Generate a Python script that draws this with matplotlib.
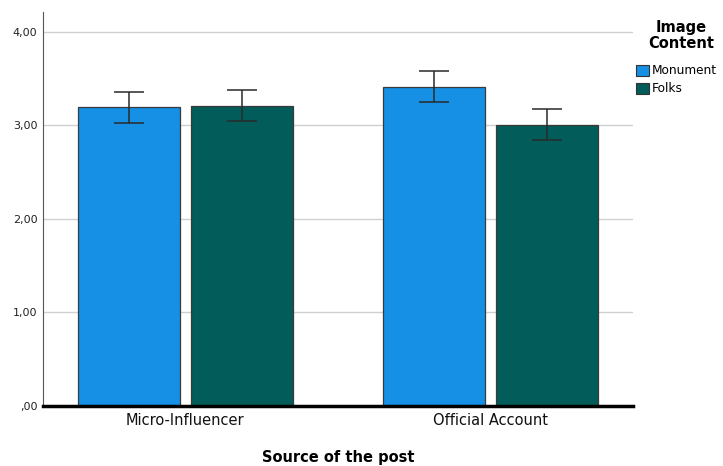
import matplotlib
matplotlib.use("Agg")
import matplotlib.pyplot as plt
import numpy as np
from matplotlib.patches import Patch

categories = ["Micro-Influencer", "Official Account"]
series = ["Monument", "Folks"]
means = {"Monument": [3.19, 3.41], "Folks": [3.21, 3.005]}
err_low = {"Monument": [3.02, 3.25], "Folks": [3.05, 2.84]}
err_high = {"Monument": [3.36, 3.58], "Folks": [3.38, 3.17]}
colors = {"Monument": "#1590E5", "Folks": "#025C5A"}
yticks = [0, 1, 2, 3, 4]
ytick_labels = [",00", "1,00", "2,00", "3,00", "4,00"]

plt.rcParams["font.family"] = ["DejaVu Sans"]
fig = plt.figure(figsize=(7.23, 4.66), dpi=100)
ax = fig.add_axes([0.0595, 0.1288, 0.816, 0.8454])

x = np.arange(len(categories))
width = 0.333
offsets = [-0.185, 0.185]
for s, off in zip(series, offsets):
    m = np.array(means[s])
    lo = m - np.array(err_low[s])
    hi = np.array(err_high[s]) - m
    ax.bar(x + off, m, width, color=colors[s], edgecolor="#3a3a3a", linewidth=0.9, zorder=2)
    ax.errorbar(x + off, m, yerr=[lo, hi], fmt="none", ecolor="#2a2a2a", elinewidth=1.1,
                capsize=10.5, capthick=1.1, zorder=3)

ax.set_xlim(-0.465, 1.465)
ax.set_ylim(0, 4.21)
ax.set_yticks(yticks)
ax.set_yticklabels(ytick_labels, fontsize=8, color="#222222")
ax.set_xticks(x)
ax.set_xticklabels(categories, fontsize=10.5, color="#111111")
ax.tick_params(axis="x", length=0, pad=5)
ax.tick_params(axis="y", length=0, pad=4)
ax.yaxis.grid(True, color="#d0d0d0", linewidth=1.0, zorder=0)
ax.set_axisbelow(True)
for sp in ["top", "right"]:
    ax.spines[sp].set_visible(False)
ax.spines["left"].set_color("#555555")
ax.spines["left"].set_linewidth(0.8)
ax.spines["bottom"].set_color("black")
ax.spines["bottom"].set_linewidth(2.5)
ax.set_xlabel("Source of the post", fontsize=10.5, fontweight="bold", labelpad=16)

fig.text(681 / 723, 1 - 20 / 466, "Image\nContent", ha="center", va="top",
         fontsize=10.5, fontweight="bold", multialignment="center", linespacing=1.05)
handles = [Patch(facecolor=colors[s], edgecolor="#333333", linewidth=0.8, label=s) for s in series]
leg = fig.legend(handles=handles, loc="upper left",
                 bbox_to_anchor=(628 / 723, 1 - 56 / 466), frameon=False, fontsize=8.7,
                 handlelength=1.0, handleheight=1.0, handletextpad=0.25, labelspacing=0.4,
                 borderpad=0.2)

fig.savefig("out.png", dpi=100)
